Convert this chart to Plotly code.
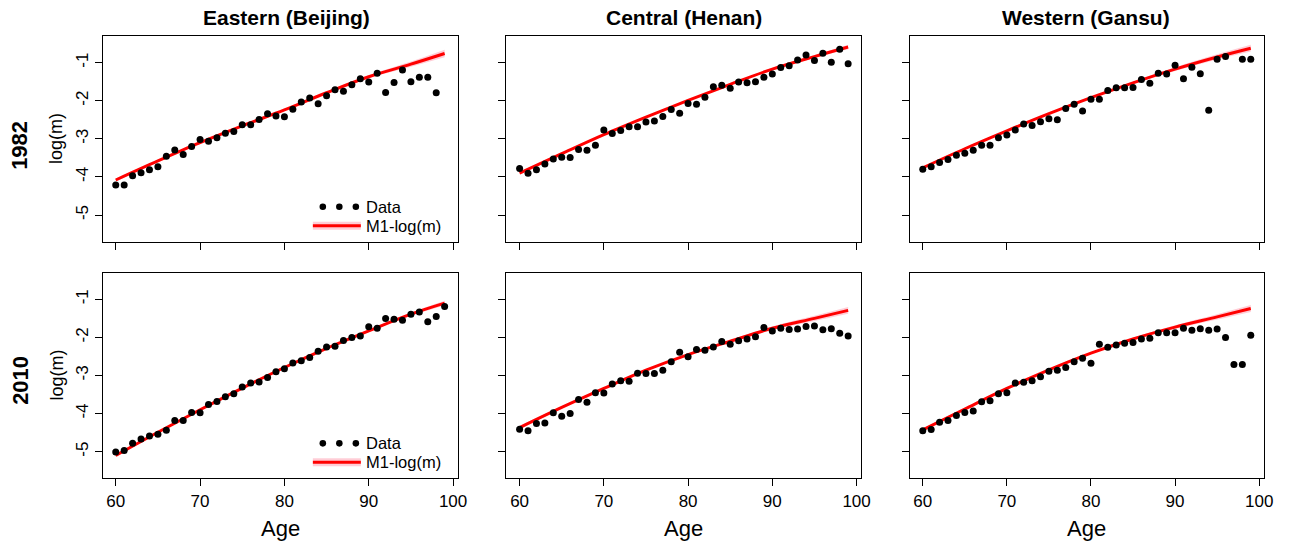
import plotly.graph_objects as go

FONT = "Liberation Sans, Arial, Helvetica, sans-serif"

# ages of the observed rates, and the ages where the fitted curve is tabulated
AGES = list(range(60, 100))
FIT_AGES = [60, 65, 70, 75, 80, 85, 90, 95, 99]

REGIONS = ["Eastern (Beijing)", "Central (Henan)", "Western (Gansu)"]
YEARS = ["1982", "2010"]

# observed log death rates, ages 60..99 (None where no rate is shown)
beijing_1982 = [-4.21, -4.21, -3.97, -3.89, -3.81, -3.73, -3.46, -3.29, -3.41, -3.20,
                -3.02, -3.06, -2.97, -2.85, -2.81, -2.63, -2.63, -2.49, -2.34, -2.40,
                -2.42, -2.22, -2.03, -1.93, -2.08, -1.87, -1.71, -1.75, -1.58, -1.42,
                -1.51, -1.28, -1.78, -1.52, -1.19, -1.50, -1.38, -1.38, -1.79, None]
henan_1982 = [-3.78, -3.90, -3.81, -3.66, -3.53, -3.48, -3.49, -3.28, -3.30, -3.17,
              -2.77, -2.86, -2.78, -2.68, -2.68, -2.56, -2.53, -2.41, -2.23, -2.33,
              -2.07, -2.09, -1.91, -1.63, -1.59, -1.67, -1.51, -1.53, -1.50, -1.38,
              -1.30, -1.13, -1.08, -0.93, -0.80, -0.94, -0.75, -0.99, -0.65, -1.03]
gansu_1982 = [-3.80, -3.73, -3.62, -3.54, -3.43, -3.38, -3.30, -3.17, -3.17, -2.97,
              -2.90, -2.77, -2.61, -2.65, -2.55, -2.47, -2.50, -2.20, -2.09, -2.27,
              -1.96, -1.96, -1.73, -1.66, -1.66, -1.65, -1.44, -1.54, -1.28, -1.30,
              -1.07, -1.42, -1.12, -1.29, -2.25, -0.91, -0.84, None, -0.91, -0.91]
beijing_2010 = [-5.01, -4.97, -4.78, -4.67, -4.59, -4.54, -4.44, -4.18, -4.18, -3.97,
                -3.98, -3.76, -3.68, -3.56, -3.48, -3.30, -3.20, -3.17, -3.05, -2.90,
                -2.82, -2.67, -2.61, -2.53, -2.36, -2.25, -2.23, -2.08, -2.00, -1.96,
                -1.72, -1.76, -1.50, -1.52, -1.55, -1.39, -1.33, -1.59, -1.45, -1.19]
henan_2010 = [-4.41, -4.45, -4.26, -4.25, -3.98, -4.07, -4.00, -3.63, -3.70, -3.45,
              -3.46, -3.22, -3.14, -3.15, -2.94, -2.95, -2.95, -2.86, -2.64, -2.39,
              -2.51, -2.32, -2.34, -2.25, -2.11, -2.18, -2.09, -2.04, -1.98, -1.74,
              -1.83, -1.76, -1.79, -1.78, -1.71, -1.70, -1.80, -1.77, -1.89, -1.96]
gansu_2010 = [-4.45, -4.42, -4.23, -4.18, -4.05, -3.97, -3.93, -3.69, -3.66, -3.48,
              -3.45, -3.20, -3.18, -3.14, -3.03, -2.89, -2.86, -2.79, -2.64, -2.55,
              -2.68, -2.18, -2.26, -2.20, -2.15, -2.13, -2.04, -2.02, -1.88, -1.88,
              -1.88, -1.76, -1.81, -1.77, -1.81, -1.78, -2.00, -2.71, -2.71, -1.94]

# M1 fitted log(m) at FIT_AGES
fit_beijing_1982 = [-4.08, -3.58, -3.10, -2.66, -2.24, -1.79, -1.37, -1.04, -0.76]
fit_henan_1982 = [-3.90, -3.39, -2.89, -2.43, -1.99, -1.57, -1.17, -0.84, -0.59]
fit_gansu_1982 = [-3.76, -3.26, -2.79, -2.34, -1.92, -1.53, -1.17, -0.85, -0.62]
fit_beijing_2010 = [-5.10, -4.49, -3.90, -3.33, -2.79, -2.29, -1.83, -1.39, -1.10]
fit_henan_2010 = [-4.37, -3.84, -3.34, -2.86, -2.45, -2.10, -1.76, -1.50, -1.29]
fit_gansu_2010 = [-4.43, -3.88, -3.34, -2.85, -2.41, -2.04, -1.73, -1.46, -1.24]

# half-width of the fitted interval at FIT_AGES
band_beijing_1982 = [0.04, 0.02, 0.015, 0.015, 0.02, 0.03, 0.04, 0.07, 0.10]
band_henan_1982 = [0.03, 0.02, 0.015, 0.015, 0.015, 0.02, 0.03, 0.04, 0.06]
band_gansu_1982 = [0.03, 0.02, 0.015, 0.015, 0.02, 0.03, 0.05, 0.07, 0.09]
band_beijing_2010 = [0.04, 0.02, 0.015, 0.015, 0.015, 0.02, 0.03, 0.04, 0.06]
band_henan_2010 = [0.05, 0.03, 0.02, 0.015, 0.02, 0.03, 0.05, 0.07, 0.09]
band_gansu_2010 = [0.04, 0.03, 0.02, 0.015, 0.02, 0.03, 0.05, 0.07, 0.09]

X_TICKS = [60, 70, 80, 90, 100]
Y_TICKS = [-5, -4, -3, -2, -1]
Y_TICK_TEXT = ["-5", "-4", "-3", "-2", "-1"]

panels = [
    (beijing_1982, fit_beijing_1982, band_beijing_1982),
    (henan_1982, fit_henan_1982, band_henan_1982),
    (gansu_1982, fit_gansu_1982, band_gansu_1982),
    (beijing_2010, fit_beijing_2010, band_beijing_2010),
    (henan_2010, fit_henan_2010, band_henan_2010),
    (gansu_2010, fit_gansu_2010, band_gansu_2010),
]

W, H = 1298, 546
COL_PX = [(103.3, 461.0), (510.0, 867.3), (916.0, 1272.7)]
ROW_PX = [(36.0, 241.7), (272.7, 478.3)]

RED = "#ff0000"
PINK = "rgba(255, 90, 120, 0.30)"

fig = go.Figure()

for k, (obs, fit, hw) in enumerate(panels, start=1):
    xa = "x" if k == 1 else f"x{k}"
    ya = "y" if k == 1 else f"y{k}"
    lower = [f - h for f, h in zip(fit, hw)]
    upper = [f + h for f, h in zip(fit, hw)]
    fig.add_trace(go.Scatter(x=FIT_AGES, y=lower, mode="lines",
                             line=dict(width=0, shape="spline", color=PINK),
                             xaxis=xa, yaxis=ya, hoverinfo="skip", showlegend=False))
    fig.add_trace(go.Scatter(x=FIT_AGES, y=upper, mode="lines", fill="tonexty",
                             fillcolor=PINK,
                             line=dict(width=0, shape="spline", color=PINK),
                             xaxis=xa, yaxis=ya, hoverinfo="skip", showlegend=False))
    fig.add_trace(go.Scatter(x=FIT_AGES, y=fit, mode="lines",
                             line=dict(width=3, shape="spline", color=RED),
                             xaxis=xa, yaxis=ya, name="M1-log(m)", showlegend=False))
    fig.add_trace(go.Scatter(x=AGES, y=obs, mode="markers",
                             marker=dict(size=7, color="black"),
                             xaxis=xa, yaxis=ya, name="Data", showlegend=False))

axis_common = dict(showline=True, mirror=True, linecolor="black", linewidth=1,
                   ticks="outside", ticklen=7, tickwidth=1, tickcolor="black",
                   showgrid=False, zeroline=False,
                   tickfont=dict(family=FONT, size=17, color="black"))

layout = dict(width=W, height=H, margin=dict(l=0, r=0, t=0, b=0),
              paper_bgcolor="white", plot_bgcolor="white", showlegend=False)

for k in range(1, 7):
    r, c = divmod(k - 1, 3)
    x0, x1 = COL_PX[c]
    y0, y1 = ROW_PX[r]
    xname = "xaxis" if k == 1 else f"xaxis{k}"
    yname = "yaxis" if k == 1 else f"yaxis{k}"
    ya = "y" if k == 1 else f"y{k}"
    xa = "x" if k == 1 else f"x{k}"
    layout[xname] = dict(axis_common, domain=[x0 / W, x1 / W], anchor=ya,
                         range=[58.44, 100.56], tickvals=X_TICKS,
                         showticklabels=(r == 1))
    layout[yname] = dict(axis_common, domain=[1 - y1 / H, 1 - y0 / H], anchor=xa,
                         range=[-5.7, -0.3], tickvals=Y_TICKS, ticktext=Y_TICK_TEXT,
                         tickangle=-90, showticklabels=(c == 0))

fig.update_layout(**layout)

annotations = []
shapes = []

# column titles
title_x = [288.7, 688.5, 1093.5]
for name, xc in zip(REGIONS, title_x):
    annotations.append(dict(text=f"<b>{name}</b>", x=xc / W, y=1 - 18 / H,
                            xref="paper", yref="paper", showarrow=False,
                            xanchor="center", yanchor="middle",
                            font=dict(family=FONT, size=21, color="black")))

# x-axis titles
for c, (x0, x1) in enumerate(COL_PX):
    annotations.append(dict(text="Age", x=(x0 + x1) / 2 / W, y=1 - 528 / H,
                            xref="paper", yref="paper", showarrow=False,
                            xanchor="center", yanchor="middle",
                            font=dict(family=FONT, size=22, color="black")))

# y-axis titles and row labels
row_label_y = [145, 380]
for r, (y0, y1) in enumerate(ROW_PX):
    annotations.append(dict(text="log(m)", x=56.5 / W, y=1 - (y0 + y1) / 2 / H,
                            xref="paper", yref="paper", showarrow=False, textangle=-90,
                            xanchor="center", yanchor="middle",
                            font=dict(family=FONT, size=18, color="black")))
    annotations.append(dict(text=f"<b>{YEARS[r]}</b>", x=20 / W, y=1 - row_label_y[r] / H,
                            xref="paper", yref="paper", showarrow=False, textangle=-90,
                            xanchor="center", yanchor="middle",
                            font=dict(family=FONT, size=22, color="black")))

# in-panel legends (left column)
LEG_Y_DATA, LEG_Y_FIT = 0.170, 0.078
for xa in ["x", "x4"]:
    ya = "y" if xa == "x" else "y4"
    xr, yr = f"{xa} domain", f"{ya} domain"
    dot_dx, dot_dy = 3.3 / 357.7, 3.3 / 205.7
    for xc in [0.620, 0.6665, 0.713]:
        shapes.append(dict(type="circle", xref=xr, yref=yr,
                           x0=xc - dot_dx, x1=xc + dot_dx,
                           y0=LEG_Y_DATA - dot_dy, y1=LEG_Y_DATA + dot_dy,
                           fillcolor="black", line=dict(width=0)))
    shapes.append(dict(type="line", xref=xr, yref=yr, x0=0.592, x1=0.727,
                       y0=LEG_Y_FIT, y1=LEG_Y_FIT, line=dict(color=PINK, width=8)))
    shapes.append(dict(type="line", xref=xr, yref=yr, x0=0.592, x1=0.727,
                       y0=LEG_Y_FIT, y1=LEG_Y_FIT, line=dict(color=RED, width=3)))
    annotations.append(dict(text="Data", x=0.738, y=LEG_Y_DATA, xref=xr, yref=yr,
                            showarrow=False, xanchor="left", yanchor="middle",
                            borderpad=0,
                            font=dict(family=FONT, size=16.5, color="black")))
    annotations.append(dict(text="M1-log(m)", x=0.738, y=LEG_Y_FIT, xref=xr, yref=yr,
                            showarrow=False, xanchor="left", yanchor="middle",
                            borderpad=0,
                            font=dict(family=FONT, size=16.5, color="black")))

fig.update_layout(annotations=annotations, shapes=shapes)
fig.write_html("out.html")
